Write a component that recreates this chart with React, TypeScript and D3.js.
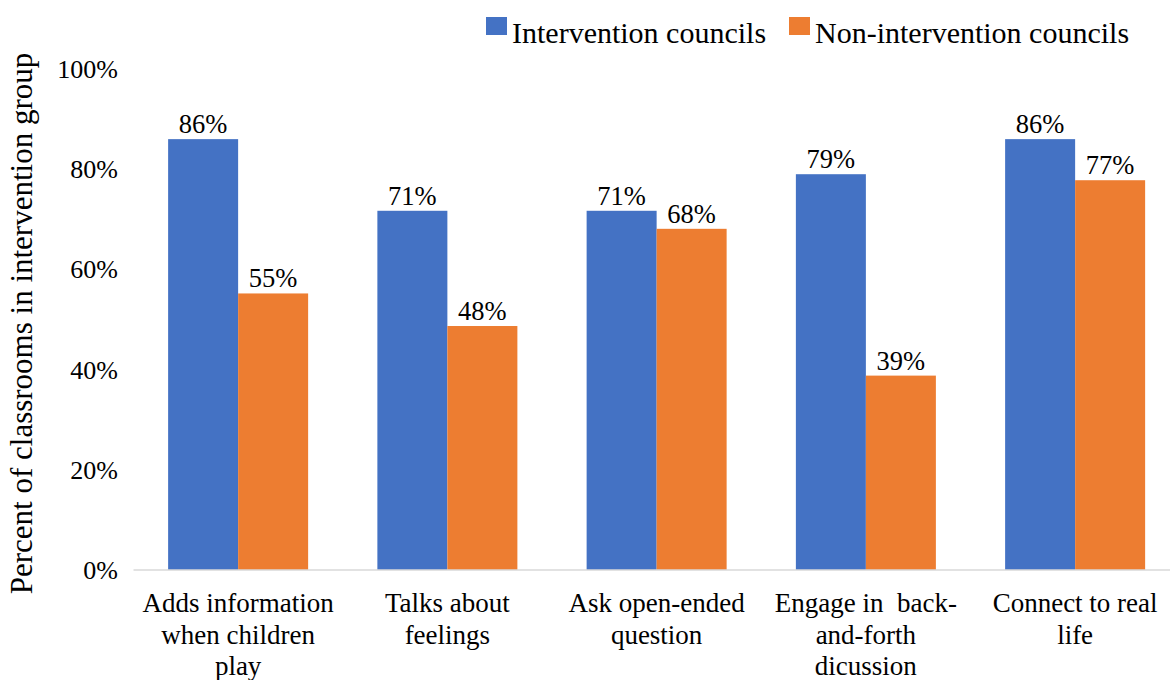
import React from "react";
import * as d3 from "d3";

const categories: string[] = [
  "Adds information when children play",
  "Talks about feelings",
  "Ask open-ended question",
  "Engage in back-and-forth dicussion",
  "Connect to real life",
];
const categoryLines: string[][] = [
  ["Adds information", "when children", "play"],
  ["Talks about", "feelings"],
  ["Ask open-ended", "question"],
  ["Engage in\u00A0 back-", "and-forth", "dicussion"],
  ["Connect to real", "life"],
];
const seriesNames: string[] = ["Intervention councils", "Non-intervention councils"];
const interventionValues: number[] = [86, 71.7, 71.7, 79, 86];
const nonInterventionValues: number[] = [55.2, 48.7, 68.1, 38.8, 77.8];
const interventionLabels: string[] = ["86%", "71%", "71%", "79%", "86%"];
const nonInterventionLabels: string[] = ["55%", "48%", "68%", "39%", "77%"];
const yTicks: number[] = [0, 20, 40, 60, 80, 100];
const yTitle = "Percent of classrooms in intervention group";

const colors = ["#4472C4", "#ED7D31"];
const txt = { fontFamily: "Times New Roman" };

export default function App() {
  const W = 1170;
  const H = 680;
  const left = 133.5;
  const right = 1179.75;
  const top = 69;
  const bottom = 570;

  const x0 = d3.scaleBand<string>().domain(categories).range([left, right]).padding(0);
  const x1 = d3
    .scaleBand<string>()
    .domain(seriesNames)
    .range([0, x0.bandwidth()])
    .paddingInner(0)
    .paddingOuter(0.4946);
  const y = d3.scaleLinear().domain([0, 100]).range([bottom, top]);

  const series = [
    { name: seriesNames[0], values: interventionValues, labels: interventionLabels, color: colors[0] },
    { name: seriesNames[1], values: nonInterventionValues, labels: nonInterventionLabels, color: colors[1] },
  ];

  const legendItems = [
    { name: seriesNames[0], color: colors[0], x: 486 },
    { name: seriesNames[1], color: colors[1], x: 789 },
  ];

  return (
    <div style={{ position: "absolute", left: 0, top: 0, width: W, height: H, background: "#fff" }}>
      <svg width={W} height={H}>
        {/* y tick labels */}
        {yTicks.map((t) => (
          <text key={t} x={118} y={y(t) + 9} textAnchor="end" fontSize={26} style={txt}>
            {t + "%"}
          </text>
        ))}
        {/* y title */}
        <text
          transform={`translate(32, ${(52 + 595) / 2}) rotate(-90)`}
          textAnchor="middle"
          fontSize={31}
          style={txt}
        >
          {yTitle}
        </text>
        {/* bars */}
        {series.map((s) =>
          categories.map((c, i) => (
            <rect
              key={s.name + c}
              x={(x0(c) as number) + (x1(s.name) as number)}
              y={y(s.values[i])}
              width={x1.bandwidth()}
              height={bottom - y(s.values[i])}
              fill={s.color}
            />
          ))
        )}
        {/* data labels */}
        {series.map((s) =>
          categories.map((c, i) => (
            <text
              key={"l" + s.name + c}
              x={(x0(c) as number) + (x1(s.name) as number) + x1.bandwidth() / 2}
              y={y(s.values[i]) - 6}
              textAnchor="middle"
              fontSize={26.5}
              style={txt}
            >
              {s.labels[i]}
            </text>
          ))
        )}
        {/* x axis line */}
        <line x1={left} x2={W} y1={bottom} y2={bottom} stroke="#d9d9d9" strokeWidth={1.5} />
        {/* category labels */}
        {categories.map((c, i) =>
          categoryLines[i].map((line, j) => (
            <text
              key={"c" + i + "-" + j}
              x={(x0(c) as number) + x0.bandwidth() / 2}
              y={612 + j * 31.5}
              textAnchor="middle"
              fontSize={27}
              style={txt}
            >
              {line}
            </text>
          ))
        )}
        {/* legend */}
        {legendItems.map((l) => (
          <g key={l.name}>
            <rect x={l.x} y={17} width={21} height={18} fill={l.color} />
            <text x={l.x + 26} y={43} fontSize={30} style={txt}>
              {l.name}
            </text>
          </g>
        ))}
      </svg>
    </div>
  );
}
